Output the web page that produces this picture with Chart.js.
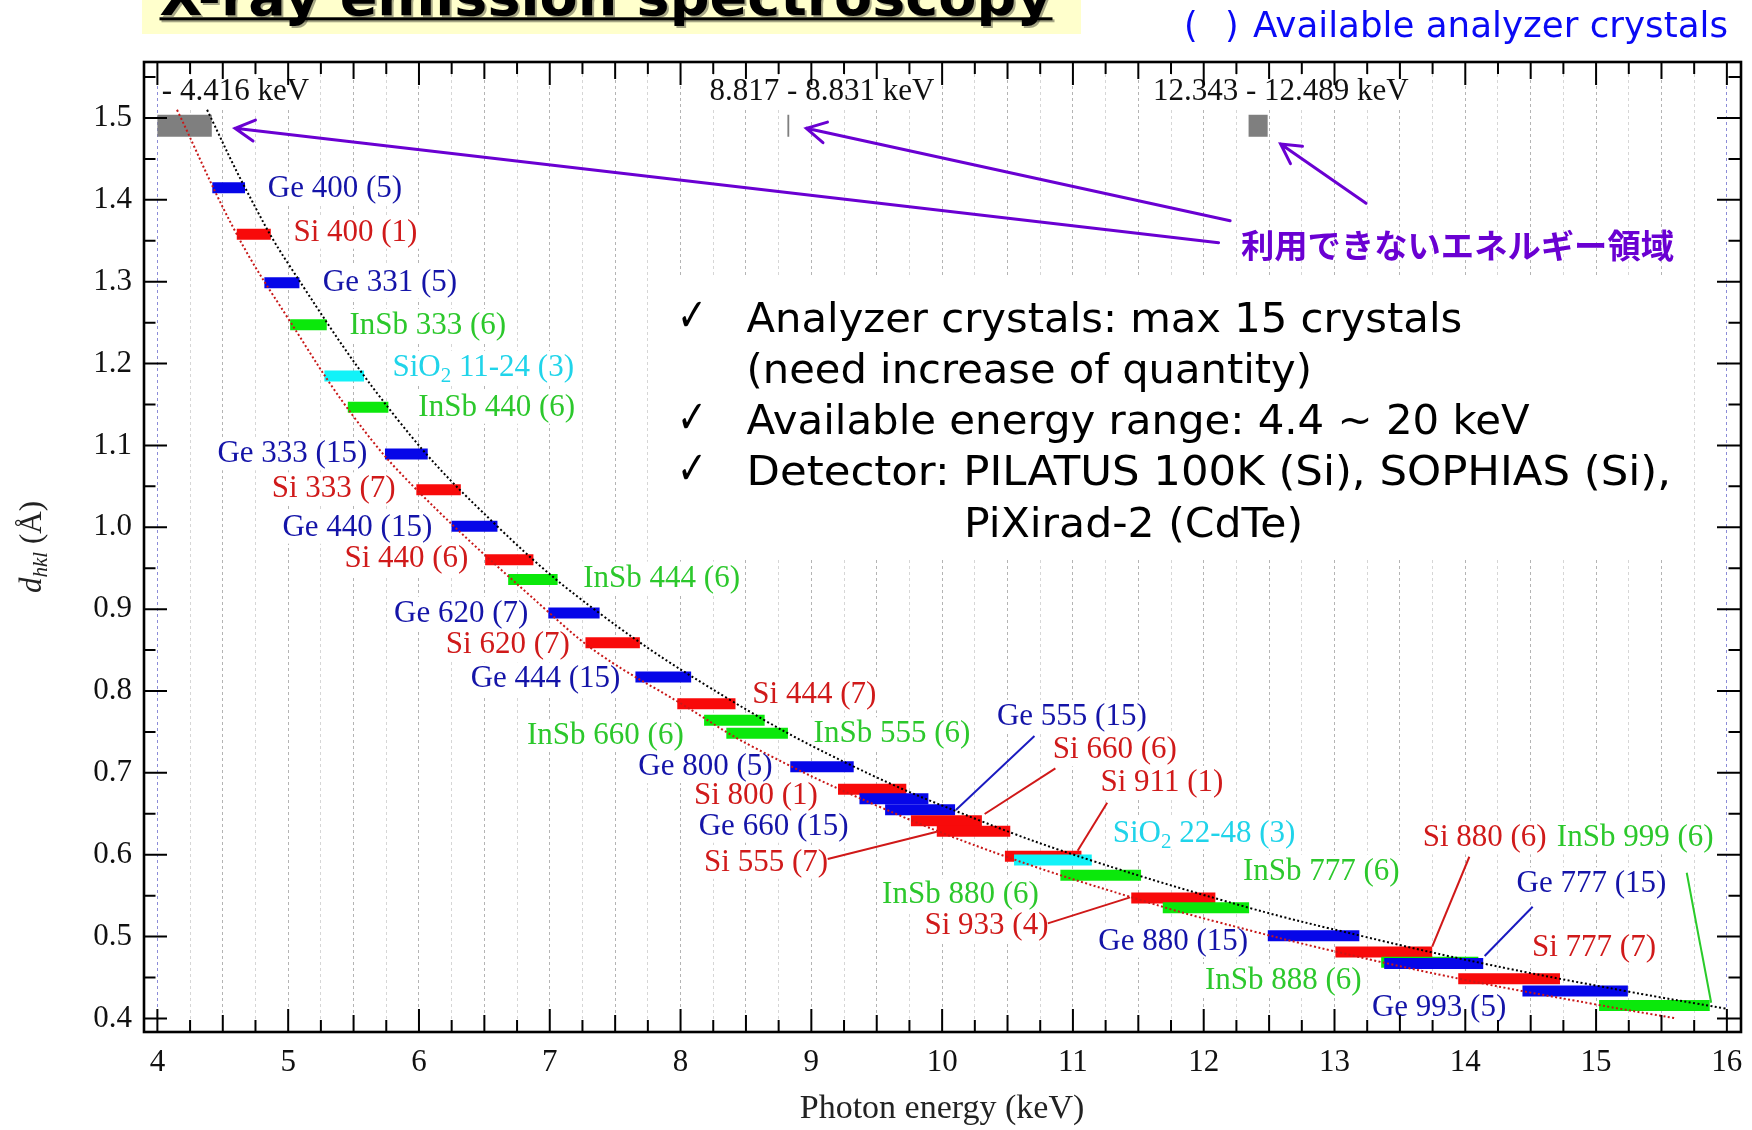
<!DOCTYPE html>
<html>
<head>
<meta charset="utf-8">
<script src="https://cdn.jsdelivr.net/npm/chart.js@4.4.1/dist/chart.umd.min.js"></script>
<style>
  html, body { margin: 0; padding: 0; background: #ffffff; }
  canvas { display: block; }
</style>
</head>
<body>
<canvas id="chart" width="1752" height="1130"></canvas>
<script>
// ---- Analyzer crystal reflections -------------------------------------
const crystalNames = ['Ge 400','Si 400','Ge 331','InSb 333','SiO2 11-24','InSb 440','Ge 333','Si 333',
  'Ge 440','Si 440','InSb 444','Ge 620','Si 620','Ge 444','Si 444','InSb 660','InSb 555','Ge 800',
  'Si 800','Ge 660','Ge 555','Si 660','Si 555','Si 911','SiO2 22-48','InSb 880','Si 933','InSb 777',
  'Ge 880','Si 880','InSb 888','Ge 777','Si 777','Ge 993','InSb 999'];
// number of analyzer crystals on hand
const crystalCounts = [5,1,5,6,3,6,15,7,15,6,6,7,7,15,7,6,6,5,1,15,15,6,7,1,3,6,4,6,15,6,6,15,7,5,6];
// lattice spacing d_hkl (Å)
const dSpacing = [1.4147,1.3579,1.2986,1.2473,1.1848,1.1465,1.0895,1.0459,1.0011,0.9604,0.9362,0.8952,
  0.8590,0.8171,0.7845,0.7641,0.7483,0.7075,0.6800,0.6682,0.6549,0.6415,0.6285,0.5980,0.5935,0.5748,
  0.5470,0.5352,0.5010,0.4811,0.4685,0.4672,0.4485,0.4334,0.4159];
// usable photon-energy window (keV)
const energyLow = [4.420,4.607,4.818,5.015,5.277,5.456,5.740,5.980,6.249,6.506,6.682,6.989,7.273,7.655,
  7.975,8.180,8.350,8.839,9.204,9.368,9.564,9.761,9.959,10.480,10.550,10.904,11.446,11.687,12.490,13.007,
  13.357,13.380,13.946,14.437,15.023];
const energyHigh = [4.670,4.867,5.086,5.295,5.580,5.766,6.067,6.320,6.600,6.875,7.060,7.381,7.689,8.081,
  8.420,8.643,8.821,9.324,9.726,9.895,10.099,10.304,10.521,11.065,11.144,11.521,12.089,12.347,13.190,13.747,
  14.100,14.137,14.724,15.243,15.869];

// ---- Energy windows that no crystal covers ------------------------------
const gapLow = [4.0, 8.817, 12.343];
const gapHigh = [4.416, 8.831, 12.489];
const gapLevel = 1.4905;
const gapLabels = ['- 4.416 keV', '8.817 - 8.831 keV', '12.343 - 12.489 keV'];

// ---- Bragg-angle limit curves (E, d) -------------------------------------
const limitHighE = [4.38,4.67,5.0,5.84,6.6,7.38,8.38,9.32,10.3,11.14,12.35,13.2,14.14,15.24,15.99];
const limitHighD = [1.51,1.415,1.322,1.131,1.001,0.895,0.789,0.708,0.641,0.593,0.535,0.501,0.467,0.433,0.412];
const limitLowE = [4.15,4.6,5.0,5.52,6.0,7.0,7.39,8.0,8.55,9.5,10.5,11.59,12.1,13.0,14.0,15.0,15.61];
const limitLowD = [1.51,1.36,1.255,1.131,1.043,0.895,0.844,0.785,0.732,0.66,0.597,0.541,0.518,0.482,0.447,0.417,0.400];

// ---- Axis ticks ------------------------------------------------------------
const energyTickLabels = ['4','5','6','7','8','9','10','11','12','13','14','15','16'];
const dTickLabels = ['0.4','0.5','0.6','0.7','0.8','0.9','1.0','1.1','1.2','1.3','1.4','1.5'];

// ---- Annotation layout (data coordinates) ---------------------------------
const labelPos = [[4.844,1.4141],[5.040,1.3611],[5.265,1.3000],[5.468,1.2471],[5.797,1.1961],[5.995,1.1473],
  [4.459,1.0904],[4.874,1.0476],[4.956,1.0007],[5.430,0.9621],[7.256,0.9385],[5.810,0.8956],[6.205,0.8574],
  [6.395,0.8155],[8.549,0.7971],[6.826,0.7462],[9.017,0.7483],[7.677,0.7083],[8.102,0.6729],[8.139,0.6354],
  [10.419,0.7694],[10.846,0.7287],[8.180,0.5914],[11.211,0.6888],[11.304,0.6272],[9.541,0.5516],[9.865,0.5140],
  [12.300,0.5804],[11.194,0.4951],[13.674,0.6212],[12.009,0.4469],[14.392,0.5650],[14.510,0.4875],
  [13.286,0.4142],[14.700,0.6212]];
const gapLabelPos = [[4.034,1.5327],[8.222,1.5327],[11.612,1.5327]];
const leaderLines = [
  ['Ge', 10.706, 0.7450, 10.105, 0.6546],
  ['Si', 10.866, 0.7055, 10.325, 0.6497],
  ['Si', 11.262, 0.6635, 11.036, 0.6048],
  ['Si', 9.125, 0.5947, 9.959, 0.6280],
  ['Si', 10.808, 0.5161, 11.437, 0.5479],
  ['Si', 14.031, 0.5975, 13.747, 0.4876],
  ['Ge', 14.515, 0.5364, 14.148, 0.4762],
  ['InSb', 15.693, 0.5779, 15.880, 0.4191]
];
const arrowLines = [
  [12.114, 1.3477, 4.594, 1.4874],
  [12.202, 1.3745, 8.962, 1.4874],
  [13.241, 1.3958, 12.588, 1.4682]
];

const KIND = {
  Ge:   { bar: '#0606e8', text: '#1414a8', lead: '#1a1ac0' },
  Si:   { bar: '#f80a0a', text: '#d01a1a', lead: '#d01818' },
  InSb: { bar: '#0be80b', text: '#2cc82c', lead: '#2acb2a' },
  SiO2: { bar: '#12f2f8', text: '#20d4ea', lead: '#22d6ea' }
};
const kindOf = name => name.split(' ')[0];
const labelText = i => `${crystalNames[i]} (${crystalCounts[i]})`;

const SERIF = '"Liberation Serif", "DejaVu Serif", serif';
const SANS = '"DejaVu Sans", Verdana, sans-serif';
const PURPLE = '#6a00d2';

function labelParts(text) {
  const m = text.match(/^(.*O)2(\s.*)$/);
  if (m) return [{ t: m[1], sub: false }, { t: '2', sub: true }, { t: m[2], sub: false }];
  return [{ t: text, sub: false }];
}
function partFont(p) { return p.sub ? `21px ${SERIF}` : `31px ${SERIF}`; }
function measureParts(ctx, parts) {
  let w = 0;
  parts.forEach(p => { ctx.font = partFont(p); w += ctx.measureText(p.t).width; });
  return w;
}
function drawParts(ctx, parts, x, y) {
  ctx.textAlign = 'left';
  ctx.textBaseline = 'middle';
  parts.forEach(p => {
    ctx.font = partFont(p);
    ctx.fillText(p.t, x, y + (p.sub ? 9 : 0));
    x += ctx.measureText(p.t).width;
  });
}
// text squeezed or stretched horizontally to a given width
function fitText(ctx, str, x, y, width) {
  const w = ctx.measureText(str).width;
  const k = width / w;
  ctx.save();
  ctx.translate(x, y);
  ctx.scale(k, 1);
  ctx.fillText(str, 0, 0);
  ctx.restore();
}

const overlay = {
  id: 'overlay',
  beforeDatasetsDraw(chart) {
    const { ctx } = chart;
    const xs = chart.scales.x, ys = chart.scales.y;
    ctx.save();
    ctx.fillStyle = '#ffffff';
    // panel behind the notes
    ctx.fillRect(652, 276, 1040, 284);
    // opaque boxes behind the labels
    crystalNames.forEach((n, i) => {
      const w = measureParts(ctx, labelParts(labelText(i)));
      const lx = xs.getPixelForValue(labelPos[i][0]);
      const ly = ys.getPixelForValue(labelPos[i][1]);
      ctx.fillRect(lx - 3, ly - 16, w + 6, 33);
    });
    gapLabels.forEach((t, i) => {
      const w = measureParts(ctx, [{ t, sub: false }]);
      const lx = xs.getPixelForValue(gapLabelPos[i][0]);
      const ly = ys.getPixelForValue(gapLabelPos[i][1]);
      ctx.fillRect(lx - 3, ly - 16, w + 6, 33);
    });
    ctx.restore();
  },
  afterDatasetsDraw(chart) {
    const { ctx } = chart;
    const xs = chart.scales.x, ys = chart.scales.y;
    const X = v => xs.getPixelForValue(v), Y = v => ys.getPixelForValue(v);
    ctx.save();
    // leader lines from labels to crowded bars
    ctx.lineWidth = 2;
    leaderLines.forEach(([k, e1, d1, e2, d2]) => {
      ctx.strokeStyle = KIND[k].lead;
      ctx.beginPath();
      ctx.moveTo(X(e1), Y(d1));
      ctx.lineTo(X(e2), Y(d2));
      ctx.stroke();
    });
    // crystal labels
    crystalNames.forEach((n, i) => {
      ctx.fillStyle = KIND[kindOf(n)].text;
      drawParts(ctx, labelParts(labelText(i)), X(labelPos[i][0]), Y(labelPos[i][1]) + 1);
    });
    ctx.fillStyle = '#111';
    gapLabels.forEach((t, i) => drawParts(ctx, [{ t, sub: false }], X(gapLabelPos[i][0]), Y(gapLabelPos[i][1]) + 1));

    // arrows pointing at the uncovered windows
    ctx.strokeStyle = PURPLE;
    ctx.lineWidth = 3;
    ctx.lineCap = 'round';
    arrowLines.forEach(([e1, d1, e2, d2]) => {
      const x1 = X(e1), y1 = Y(d1), x2 = X(e2), y2 = Y(d2);
      const ang = Math.atan2(y1 - y2, x1 - x2);
      const L = 22, spread = 0.5;
      ctx.beginPath();
      ctx.moveTo(x1, y1); ctx.lineTo(x2, y2);
      ctx.moveTo(x2 + L * Math.cos(ang + spread), y2 + L * Math.sin(ang + spread));
      ctx.lineTo(x2, y2);
      ctx.lineTo(x2 + L * Math.cos(ang - spread), y2 + L * Math.sin(ang - spread));
      ctx.stroke();
    });
    ctx.fillStyle = PURPLE;
    ctx.font = `bold 33px "Noto Sans CJK JP", sans-serif`;
    ctx.textAlign = 'left';
    ctx.textBaseline = 'middle';
    fitText(ctx, '利用できないエネルギー領域', 1241, 245, 433);

    // notes
    ctx.fillStyle = '#000';
    ctx.textBaseline = 'alphabetic';
    const notes = [
      ['✓', 'Analyzer crystals: max 15 crystals', 746.6, 331.7, 715.6],
      ['', '(need increase of quantity)', 746.6, 382.5, 565.4],
      ['✓', 'Available energy range: 4.4 ~ 20 keV', 746.6, 434, 783],
      ['✓', 'Detector: PILATUS 100K (Si), SOPHIAS (Si),', 746.6, 485, 924.4],
      ['', 'PiXirad-2 (CdTe)', 964.1, 536.7, 338.9]
    ];
    notes.forEach(([mark, text, x, y, w]) => {
      if (mark) {
        ctx.font = `bold 46px ${SANS}`;
        fitText(ctx, mark, 677, y - 1, 30);
      }
      ctx.font = `41.5px ${SANS}`;
      fitText(ctx, text, x, y, w);
    });
    ctx.restore();
  },
  afterDraw(chart) {
    const { ctx, chartArea: a } = chart;
    const xs = chart.scales.x, ys = chart.scales.y;
    ctx.save();
    // inward tick marks on all four sides
    ctx.strokeStyle = '#000';
    ctx.lineWidth = 2;
    ctx.beginPath();
    xs.ticks.forEach(t => {
      const v = t.value, p = xs.getPixelForValue(v);
      const len = Number.isInteger(v) ? 23 : (Number.isInteger(v * 2) ? 17 : 12);
      ctx.moveTo(p, a.bottom); ctx.lineTo(p, a.bottom - len);
      ctx.moveTo(p, a.top); ctx.lineTo(p, a.top + len);
    });
    const yv = ys.ticks.map(t => t.value);
    const half = (yv[1] - yv[0]) / 2;
    const yMinor = [];
    yv.forEach(v => { yMinor.push(v - half, v + half); });
    const drawY = (v, len) => {
      const p = ys.getPixelForValue(v);
      ctx.moveTo(a.left, p); ctx.lineTo(a.left + len, p);
      ctx.moveTo(a.right, p); ctx.lineTo(a.right - len, p);
    };
    yv.forEach(v => drawY(v, 24));
    [...new Set(yMinor.map(v => v.toFixed(3)))].map(Number)
      .filter(v => v > ys.min && v < ys.max && !yv.some(m => Math.abs(m - v) < 1e-6))
      .forEach(v => drawY(v, 12.5));
    ctx.stroke();
    // frame
    ctx.lineWidth = 2.6;
    ctx.strokeRect(a.left + 1, a.top, a.width - 1, a.height);

    // axis titles
    ctx.fillStyle = '#222';
    ctx.textAlign = 'center';
    ctx.textBaseline = 'middle';
    ctx.font = `34px ${SERIF}`;
    ctx.fillText('Photon energy (keV)', (a.left + a.right) / 2, 1109.5);

    ctx.save();
    ctx.translate(33, (a.top + a.bottom) / 2);
    ctx.rotate(-Math.PI / 2);
    const yParts = [
      { t: 'd', f: `italic 31px ${SERIF}`, dy: 0 },
      { t: 'hkl', f: `italic 21px ${SERIF}`, dy: 8 },
      { t: ' (Å)', f: `31px ${SERIF}`, dy: 0 }
    ];
    let tw = 0;
    yParts.forEach(p => { ctx.font = p.f; tw += ctx.measureText(p.t).width; });
    let cx = -tw / 2;
    ctx.textAlign = 'left';
    yParts.forEach(p => { ctx.font = p.f; ctx.fillText(p.t, cx, p.dy); cx += ctx.measureText(p.t).width; });
    ctx.restore();

    // header
    ctx.fillStyle = '#ffffcc';
    ctx.fillRect(142, 0, 939, 34);
    ctx.save();
    ctx.shadowColor = 'rgba(0,0,0,0.35)';
    ctx.shadowOffsetX = 2;
    ctx.shadowOffsetY = 2;
    ctx.fillStyle = '#000';
    ctx.font = `bold 54px ${SANS}`;
    ctx.textAlign = 'left';
    ctx.textBaseline = 'alphabetic';
    fitText(ctx, 'X-ray emission spectroscopy', 159.5, 15, 893);
    ctx.fillRect(159.5, 17.3, 893, 3);
    ctx.restore();

    ctx.fillStyle = '#0a0af5';
    ctx.textAlign = 'left';
    ctx.textBaseline = 'alphabetic';
    ctx.font = `35px ${SANS}`;
    ctx.fillText('(', 1184, 37.3);
    ctx.fillText(')', 1225, 37.3);
    fitText(ctx, 'Available analyzer crystals', 1253, 37.3, 475);
    ctx.restore();
  }
};

// ---- Datasets ----------------------------------------------------------------
const datasets = [];
crystalNames.forEach((n, i) => {
  datasets.push({
    label: labelText(i),
    data: [{ x: energyLow[i], y: dSpacing[i] }, { x: energyHigh[i], y: dSpacing[i] }],
    showLine: true,
    borderColor: KIND[kindOf(n)].bar,
    borderWidth: 11,
    borderCapStyle: 'butt',
    pointRadius: 0,
    pointHoverRadius: 0,
    order: -i
  });
});
gapLow.forEach((lo, i) => {
  datasets.push({
    label: gapLabels[i],
    data: [{ x: lo, y: gapLevel }, { x: gapHigh[i], y: gapLevel }],
    showLine: true,
    borderColor: '#7f7f7f',
    borderWidth: 22,
    borderCapStyle: 'butt',
    pointRadius: 0,
    pointHoverRadius: 0,
    order: 5
  });
});
datasets.push({
  label: 'low-angle limit',
  data: limitHighE.map((e, i) => ({ x: e, y: limitHighD[i] })),
  showLine: true, borderColor: '#000', borderWidth: 2, borderDash: [2, 2.4],
  tension: 0.4, pointRadius: 0, pointHoverRadius: 0, order: -100
});
datasets.push({
  label: 'high-angle limit',
  data: limitLowE.map((e, i) => ({ x: e, y: limitLowD[i] })),
  showLine: true, borderColor: '#c81818', borderWidth: 2, borderDash: [2, 2.4],
  tension: 0.4, pointRadius: 0, pointHoverRadius: 0, order: -100
});

const energyTicks = energyTickLabels.map(Number);
const dTicks = dTickLabels.map(Number);
const quarterTicks = [];
for (let i = 0; i < energyTicks.length; i++) {
  quarterTicks.push(energyTicks[i]);
  if (i < energyTicks.length - 1) {
    const step = (energyTicks[i + 1] - energyTicks[i]) / 4;
    for (let k = 1; k < 4; k++) quarterTicks.push(energyTicks[i] + k * step);
  }
}

new Chart(document.getElementById('chart'), {
  type: 'scatter',
  data: { datasets },
  options: {
    responsive: false,
    devicePixelRatio: 1,
    animation: false,
    layout: { padding: { top: 62, right: 11, left: 0, bottom: 0 } },
    plugins: { legend: { display: false }, tooltip: { enabled: false } },
    scales: {
      x: {
        type: 'linear',
        min: 3.89,
        max: 16.108,
        afterBuildTicks: s => { s.ticks = quarterTicks.map(v => ({ value: v })); },
        afterFit: s => { s.height = 98; s.paddingLeft = 0; s.paddingRight = 0; },
        ticks: {
          autoSkip: false, maxRotation: 0, minRotation: 0, padding: 12, color: '#111',
          font: { family: SERIF, size: 31 },
          callback: v => { const j = energyTicks.indexOf(v); return j >= 0 ? energyTickLabels[j] : ''; }
        },
        grid: {
          drawTicks: false,
          lineWidth: 1,
          color: c => {
            const v = c.tick ? c.tick.value : 0;
            if (v === energyTicks[0] || v === energyTicks[energyTicks.length - 1]) return '#8c8cd8';
            return Number.isInteger(v * 2) ? '#b4b4b4' : '#d6d6d6';
          }
        },
        border: { display: false, dash: [3, 3] }
      },
      y: {
        type: 'linear',
        min: 0.3834,
        max: 1.5684,
        afterBuildTicks: s => { s.ticks = dTicks.map(v => ({ value: v })); },
        afterFit: s => { s.width = 143; s.paddingTop = 0; s.paddingBottom = 0; },
        ticks: {
          padding: 11, color: '#111',
          font: { family: SERIF, size: 31 },
          callback: v => { const j = dTicks.indexOf(v); return j >= 0 ? dTickLabels[j] : ''; }
        },
        grid: { display: false, drawTicks: false },
        border: { display: false }
      }
    }
  },
  plugins: [overlay]
});
</script>
</body>
</html>
